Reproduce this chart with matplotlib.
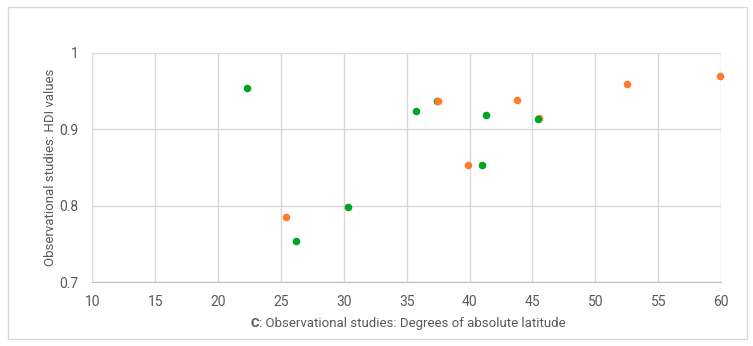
import matplotlib.pyplot as plt
from matplotlib.patches import Rectangle

# green series
green_lat = [22.3, 26.2, 30.3, 35.75, 37.4, 41.0, 41.3, 45.45]
green_hdi = [0.954, 0.754, 0.799, 0.924, 0.937, 0.853, 0.918, 0.914]

# orange series
orange_lat = [25.4, 37.5, 39.9, 43.8, 52.5, 59.9, 45.5]
orange_hdi = [0.786, 0.937, 0.853, 0.938, 0.959, 0.970, 0.915]

x_ticks = [10, 15, 20, 25, 30, 35, 40, 45, 50, 55, 60]
y_ticks = [0.7, 0.8, 0.9, 1.0]
y_labels = ['0.7', '0.8', '0.9', '1']

green = '#00a524'
orange = '#ff7a2e'
grid_col = '#d9d9d9'
text_col = '#595959'
plt.rcParams['font.family'] = ['Roboto', 'DejaVu Sans']

fig = plt.figure(figsize=(7.53, 3.46), dpi=100)
fig.patches.append(Rectangle((7.5 / 753, 7 / 346), 739 / 753, 332 / 346, transform=fig.transFigure,
                             fill=False, edgecolor='#d9d9d9', linewidth=1))
ax = fig.add_axes([0.1226, 0.184, 0.835, 0.6636])

# last orange point sits under the green one at ~45.5
ax.scatter(orange_lat[6:], orange_hdi[6:], s=30, color=orange, zorder=3, linewidths=0)
ax.scatter(green_lat, green_hdi, s=30, color=green, zorder=4, linewidths=0)
ax.scatter(orange_lat[:6], orange_hdi[:6], s=30, color=orange, zorder=5, linewidths=0, clip_on=False)

ax.set_xlim(10, 60)
ax.set_ylim(0.7, 1.0)
ax.set_xticks(x_ticks)
ax.set_yticks(y_ticks)
ax.set_yticklabels(y_labels)
ax.grid(True, color=grid_col, linewidth=1)
ax.set_axisbelow(True)
for side in ['left', 'right', 'top']:
    ax.spines[side].set_visible(False)
ax.spines['bottom'].set_color('#bfbfbf')
ax.tick_params(length=0, labelsize=10, labelcolor=text_col)
ax.tick_params(axis='x', pad=9)
ax.tick_params(axis='y', pad=10)

ax.set_ylabel('Observational studies: HDI values', fontsize=9.5, color=text_col, labelpad=2)

t = fig.text(0.333, 0.054, 'C', fontsize=9.5, fontweight='bold', color=text_col)
ax.annotate(': Observational studies: Degrees of absolute latitude', xy=(1, 0), xycoords=t,
            va='bottom', fontsize=9.5, color=text_col)

plt.savefig('out.png')
